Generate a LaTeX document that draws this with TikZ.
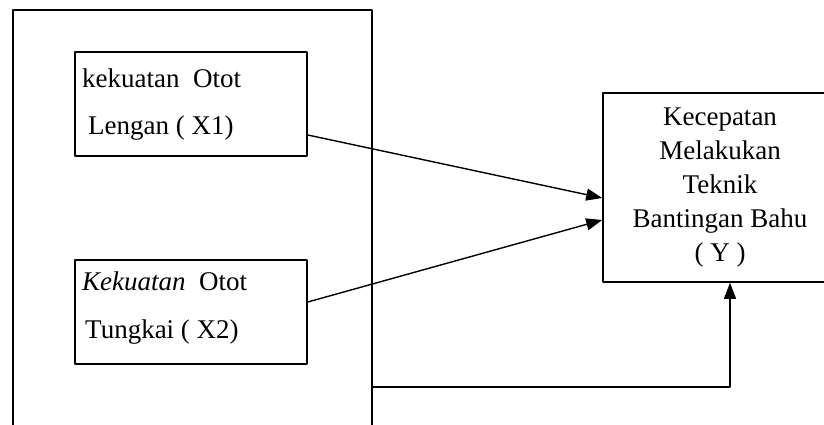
\documentclass[tikz,border=0pt]{standalone}
\usepackage{fontspec}
\setmainfont{Liberation Serif}
\usetikzlibrary{arrows.meta}
\begin{document}
\begin{tikzpicture}[x=1pt,y=-1pt,>={Triangle[length=16pt,width=12pt]},line join=round,
	kotak/.style={draw,line width=1.6pt,inner sep=0pt,minimum width=232pt,minimum height=104pt},
	teks/.style={anchor=base west,inner sep=0pt,font=\fontsize{27}{33.8}\selectfont},
	panah/.style={->,line width=1.4pt}]
	\useasboundingbox (0,0) rectangle (824,425);
	\def\ka{13} % sisi kiri kotak luar
	\def\kn{372} % sisi kanan kotak luar
	% kotak luar (tanpa sisi bawah)
	\draw[line width=1.6pt] (\ka,432)--(\ka,10)--(\kn,10)--(\kn,432);
	\path (\kn,387) coordinate (L);
	% variabel X
	\node[kotak] (X1) at (191,104) {};
	\node[kotak] (X2) at (191,312) {};
	\node[teks] (X1a) at (82,88) {kekuatan\ \ Otot};
	\node[teks] (X1b) at (88,135) {Lengan ( X1)};
	\node[teks] (X2a) at (82,290) {\textit{Kekuatan}\ \ Otot};
	\node[teks] (X2b) at (85,338) {Tungkai ( X2)};
	% variabel Y
	\node[kotak,minimum width=234pt,minimum height=189pt,align=center,
		font=\fontsize{27}{33.8}\selectfont] (Y) at (720,187.5)
		{Kecepatan\\Melakukan\\Teknik\\Bantingan Bahu\\( Y )};
	% panah
	\draw[panah] ([yshift=-31pt]X1.east) -- ([yshift=-10.5pt]Y.west);
	\draw[panah] ([yshift=10pt]X2.east) -- ([yshift=-32.5pt]Y.west);
	\draw[panah] (L) -| ([xshift=10pt]Y.south);
\end{tikzpicture}
\end{document}
